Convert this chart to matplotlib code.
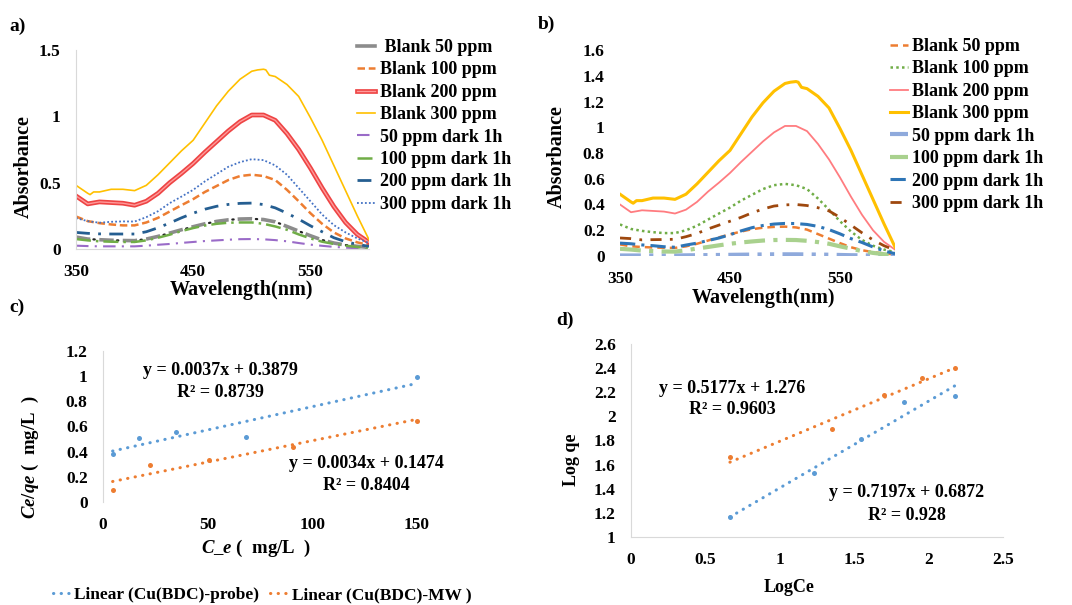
import matplotlib
matplotlib.use("Agg")
import matplotlib.pyplot as plt
import matplotlib.patheffects as pe
from matplotlib.ticker import FuncFormatter

plt.rcParams['font.family'] = ['Liberation Serif', 'DejaVu Serif']
plt.rcParams['font.weight'] = 'bold'
plt.rcParams['mathtext.fontset'] = 'custom'
plt.rcParams['mathtext.it'] = 'Liberation Serif:italic:bold'
plt.rcParams['mathtext.rm'] = 'Liberation Serif:bold'
plt.rcParams['mathtext.bf'] = 'Liberation Serif:bold'

# ---------------- data ----------------
wl = [350, 360, 370, 380, 390, 400, 410, 420, 430, 440, 450, 460, 470,
      480, 490, 500, 510, 520, 530, 540, 550, 560, 570, 580, 590, 600]
wl_300 = [350, 355, 360, 362, 365, 370, 380, 390, 400, 410, 420, 430, 440, 450,
          460, 470, 480, 490, 500, 505, 510, 512, 515, 520, 530, 540, 550,
          560, 570, 580, 590, 600]

blank_300 = [0.48, 0.45, 0.42, 0.41, 0.43, 0.43, 0.45, 0.45, 0.44, 0.48, 0.56,
             0.65, 0.74, 0.82, 0.95, 1.08, 1.19, 1.28, 1.34, 1.35, 1.355, 1.35,
             1.31, 1.30, 1.24, 1.15, 0.99, 0.82, 0.63, 0.44, 0.25, 0.07]
blank_200 = [0.40, 0.34, 0.355, 0.35, 0.345, 0.33, 0.36, 0.42, 0.50, 0.57, 0.645,
             0.73, 0.81, 0.89, 0.96, 1.01, 1.01, 0.97, 0.87, 0.75, 0.61, 0.46,
             0.32, 0.20, 0.11, 0.05]
blank_100 = [0.245, 0.21, 0.195, 0.185, 0.178, 0.178, 0.20, 0.235, 0.283, 0.33,
             0.376, 0.43, 0.475, 0.52, 0.55, 0.56, 0.55, 0.52, 0.446, 0.36, 0.27,
             0.19, 0.125, 0.08, 0.05, 0.03]
blank_50 = [0.09, 0.075, 0.07, 0.066, 0.064, 0.063, 0.075, 0.095, 0.12, 0.145,
            0.168, 0.19, 0.208, 0.22, 0.226, 0.228, 0.222, 0.205, 0.17, 0.135,
            0.10, 0.068, 0.045, 0.03, 0.02, 0.012]

# panel a dark series
a_dark_300 = [0.233, 0.21, 0.198, 0.205, 0.208, 0.207, 0.24, 0.285, 0.346, 0.395,
              0.446, 0.51, 0.565, 0.62, 0.655, 0.677, 0.67, 0.63, 0.56, 0.46,
              0.36, 0.26, 0.18, 0.125, 0.08, 0.045]
a_dark_200 = [0.125, 0.118, 0.114, 0.113, 0.113, 0.113, 0.13, 0.16, 0.196, 0.235,
              0.27, 0.30, 0.322, 0.336, 0.344, 0.346, 0.335, 0.31, 0.27, 0.225,
              0.175, 0.13, 0.085, 0.055, 0.035, 0.02]
a_dark_100 = [0.075, 0.065, 0.058, 0.055, 0.053, 0.053, 0.065, 0.085, 0.108, 0.135,
              0.158, 0.177, 0.19, 0.198, 0.20, 0.20, 0.19, 0.17, 0.145, 0.11,
              0.08, 0.055, 0.038, 0.025, 0.015, 0.008]
a_dark_50 = [0.025, 0.022, 0.02, 0.02, 0.02, 0.02, 0.025, 0.032, 0.038, 0.046,
             0.053, 0.06, 0.065, 0.07, 0.074, 0.075, 0.073, 0.067, 0.058, 0.045,
             0.033, 0.024, 0.016, 0.01, 0.006, 0.003]

# panel b dark series
b_dark_300 = [0.14, 0.135, 0.125, 0.127, 0.128, 0.13, 0.15, 0.175, 0.21, 0.24,
              0.27, 0.30, 0.335, 0.365, 0.388, 0.397, 0.40, 0.392, 0.375, 0.35,
              0.30, 0.24, 0.18, 0.125, 0.08, 0.045]
b_dark_200 = [0.10, 0.095, 0.086, 0.08, 0.072, 0.068, 0.085, 0.10, 0.12, 0.14,
              0.165, 0.195, 0.22, 0.237, 0.248, 0.253, 0.252, 0.245, 0.23, 0.205,
              0.172, 0.135, 0.105, 0.07, 0.04, 0.018]
b_dark_100 = [0.056, 0.05, 0.042, 0.038, 0.035, 0.034, 0.045, 0.058, 0.07, 0.083,
              0.095, 0.105, 0.113, 0.12, 0.124, 0.125, 0.124, 0.118, 0.108, 0.095,
              0.075, 0.057, 0.038, 0.024, 0.014, 0.007]
b_dark_50 = [0.004, 0.004, 0.004, 0.004, 0.004, 0.004, 0.005, 0.006, 0.007, 0.008,
             0.009, 0.01, 0.011, 0.012, 0.013, 0.013, 0.013, 0.012, 0.011, 0.01,
             0.008, 0.006, 0.005, 0.004, 0.003, 0.002]

labels_ab = ['Blank 50 ppm', 'Blank 100 ppm', 'Blank 200 ppm', 'Blank 300 ppm',
             '50 ppm dark 1h', '100 ppm dark 1h', '200 ppm dark 1h', '300 ppm dark 1h']

# panel c (Langmuir)
c_probe_x = [4.6, 17, 35, 68.5, 150]
c_probe_y = [0.38, 0.507, 0.554, 0.52, 0.995]
c_mw_x = [4.6, 22.6, 50.5, 90.6, 150]
c_mw_y = [0.098, 0.296, 0.335, 0.44, 0.647]
c_fit_probe = (0.0037, 0.3879)
c_fit_mw = (0.0034, 0.1474)
c_eq_probe = ['y = 0.0037x + 0.3879', 'R² = 0.8739']
c_eq_mw = ['y = 0.0034x + 0.1474', 'R² = 0.8404']

# panel d (Freundlich)
d_probe_x = [0.665, 1.23, 1.544, 1.835, 2.176]
d_probe_y = [1.167, 1.53, 1.81, 2.12, 2.17]
d_mw_x = [0.665, 1.354, 1.703, 1.957, 2.176]
d_mw_y = [1.66, 1.894, 2.178, 2.32, 2.40]
d_fit_probe = (0.7197, 0.6872)
d_fit_mw = (0.5177, 1.276)
d_eq_probe = ['y = 0.7197x + 0.6872', 'R² = 0.928']
d_eq_mw = ['y = 0.5177x + 1.276', 'R² = 0.9603']

legend_c = ['Linear (Cu(BDC)-probe)', 'Linear (Cu(BDC)-MW )']

# ---------------- figure ----------------
W, H = 1072, 605
fig = plt.figure(figsize=(W / 100, H / 100), dpi=100)


def ax_at(l, t, r, b):
    return fig.add_axes([l / W, 1 - b / H, (r - l) / W, (b - t) / H])


GRAY = '#D9D9D9'
TICK_FS = 12.5
fmt = FuncFormatter(lambda v, p: f'{v:g}')


def style(ax, left=True, bottom=True):
    for s in ['top', 'right']:
        ax.spines[s].set_visible(False)
    ax.spines['left'].set_visible(left)
    ax.spines['bottom'].set_visible(bottom)
    ax.spines['left'].set_color(GRAY)
    ax.spines['bottom'].set_color(GRAY)
    ax.tick_params(length=0, labelsize=TICK_FS, pad=11)
    ax.xaxis.set_major_formatter(fmt)
    ax.yaxis.set_major_formatter(fmt)
    for lab in ax.get_xticklabels() + ax.get_yticklabels():
        lab.set_fontweight('bold')
    ax.patch.set_alpha(0)


# ---- panel a ----
axa = ax_at(76, 50, 369, 249)
a_styles = [
    dict(color='#8C8C8C', lw=2.6, ls=(0, (4, 2.5))),
    dict(color='#ED7D31', lw=1.8, ls=(0, (3, 1.5))),
    dict(color='#FF9A9A', lw=1.0, ls='-',
         path_effects=[pe.Stroke(linewidth=3.4, foreground='#EE4444'), pe.Normal()]),
    dict(color='#FFC000', lw=1.2, ls='-'),
    dict(color='#9A6BC8', lw=1.5, ls=(0, (6, 3, 1, 3))),
    dict(color='#70AD47', lw=1.8, ls=(0, (6, 2, 1, 2))),
    dict(color='#255E91', lw=2.0, ls=(0, (5, 3, 1, 3))),
    dict(color='#4472C4', lw=1.3, ls=(0, (1, 1.2))),
]
a_data = [(wl, blank_50), (wl, blank_100), (wl, blank_200), (wl_300, blank_300),
          (wl, a_dark_50), (wl, a_dark_100), (wl, a_dark_200), (wl, a_dark_300)]
ha = []
for i, ((x, y), st, lab) in enumerate(zip(a_data, a_styles, labels_ab)):
    h, = axa.plot(x, y, label=lab, **st)
    if i == 0:
        # black dots in the gaps of the gray dashes
        axa.plot(x, y, color='#222222', lw=1.6, ls=(2.67, (0.6, 10.0)),
                 dash_capstyle='round')
        h, = axa.plot([], [], color='#8C8C8C', lw=2.6, ls='-')
    ha.append(h)
axa.set_xlim(350, 600)
axa.set_ylim(0, 1.5)
axa.set_xticks([350, 450, 550])
axa.set_yticks([0, 0.5, 1, 1.5])
style(axa, left=True, bottom=True)

fig.legend(ha, [' ' + labels_ab[0]] + labels_ab[1:], loc='upper left',
           bbox_to_anchor=(357 / W, 1 - 39 / H), frameon=False,
           prop=dict(size=13, weight='bold'), handlelength=1.0,
           handletextpad=0.25, labelspacing=0.3, borderpad=0,
           borderaxespad=0)

fig.text(24 / W, 1 - 167 / H, 'Absorbance', rotation=90, ha='center',
         va='center', fontsize=14.5, fontweight='bold')
fig.text(241 / W, 1 - 290 / H, 'Wavelength(nm)', ha='center', va='center',
         fontsize=14.5, fontweight='bold')
fig.text(18 / W, 1 - 26 / H, 'a)', ha='center', va='center', fontsize=14,
         fontweight='bold')

# ---- panel b ----
axb = ax_at(620, 50, 895, 256)
b_styles = [
    dict(color='#ED7D31', lw=1.8, ls=(0, (3, 2))),
    dict(color='#70AD47', lw=1.8, ls=(0, (1, 1.3))),
    dict(color='#FF7C80', lw=1.3, ls='-'),
    dict(color='#FFC000', lw=2.2, ls='-'),
    dict(color='#8FAADC', lw=3.0, ls=(0, (5, 2, 1, 2, 1, 2))),
    dict(color='#A9D18E', lw=3.0, ls=(0, (5, 2, 1, 2))),
    dict(color='#2E75B6', lw=2.2, ls=(0, (5, 2, 1, 2))),
    dict(color='#9E480E', lw=2.0, ls=(0, (4, 3, 1, 3))),
]
b_data = [(wl, blank_50), (wl, blank_100), (wl, blank_200), (wl_300, blank_300),
          (wl, b_dark_50), (wl, b_dark_100), (wl, b_dark_200), (wl, b_dark_300)]
hb = []
for (x, y), st, lab in zip(b_data, b_styles, labels_ab):
    h, = axb.plot(x, y, label=lab, **st)
    hb.append(h)
axb.set_xlim(350, 600)
axb.set_ylim(0, 1.6)
axb.set_xticks([350, 450, 550])
axb.set_yticks([0, 0.2, 0.4, 0.6, 0.8, 1, 1.2, 1.4, 1.6])
style(axb, left=False, bottom=False)

fig.legend(hb, labels_ab, loc='upper left', bbox_to_anchor=(890 / W, 1 - 38 / H),
           frameon=False, prop=dict(size=13, weight='bold'), handlelength=1.0,
           handletextpad=0.2, labelspacing=0.3, borderpad=0, borderaxespad=0)

fig.text(557 / W, 1 - 157 / H, 'Absorbance', rotation=90, ha='center',
         va='center', fontsize=14.5, fontweight='bold')
fig.text(763 / W, 1 - 298 / H, 'Wavelength(nm)', ha='center', va='center',
         fontsize=14.5, fontweight='bold')
fig.text(546 / W, 1 - 24 / H, 'b)', ha='center', va='center', fontsize=14,
         fontweight='bold')

# ---- panel c ----
BLUE = '#5B9BD5'
ORANGE = '#ED7D31'
dots = (0, (0.1, 2.4))
TLW = 2.2
MS = 3.6
axc = ax_at(103, 351, 438, 502)
axc.plot(c_probe_x, c_probe_y, 'o', color=BLUE, ms=MS, mew=0)
axc.plot(c_mw_x, c_mw_y, 'o', color=ORANGE, ms=MS, mew=0)
xs = [min(c_probe_x), max(c_probe_x)]
lc1, = axc.plot(xs, [c_fit_probe[0] * v + c_fit_probe[1] for v in xs], color=BLUE,
                lw=TLW, ls=dots, dash_capstyle='round')
xs = [min(c_mw_x), max(c_mw_x)]
lc2, = axc.plot(xs, [c_fit_mw[0] * v + c_fit_mw[1] for v in xs], color=ORANGE,
                lw=TLW, ls=dots, dash_capstyle='round')
axc.set_xlim(0, 160)
axc.set_ylim(0, 1.2)
axc.set_xticks([0, 50, 100, 150])
axc.set_yticks([0, 0.2, 0.4, 0.6, 0.8, 1, 1.2])
style(axc, left=True, bottom=False)
axc.text(55.9, 1.049, c_eq_probe[0], ha='center', va='center', fontsize=13,
         fontweight='bold')
axc.text(55.9, 0.874, c_eq_probe[1], ha='center', va='center', fontsize=13,
         fontweight='bold')
axc.text(126, 0.302, c_eq_mw[0], ha='center', va='center', fontsize=13,
         fontweight='bold')
axc.text(126, 0.135, c_eq_mw[1], ha='center', va='center', fontsize=13,
         fontweight='bold')

fig.text(30 / W, 1 - 457 / H, r'$\mathit{Ce/qe}$' + ' (  mg/L  )', rotation=90,
         ha='center', va='center', fontsize=13.5, fontweight='bold')
fig.text(256 / W, 1 - 548 / H, r'$\mathit{C\_e}$' + ' (  mg/L  )', ha='center',
         va='center', fontsize=13.5, fontweight='bold')
fig.text(17 / W, 1 - 307 / H, 'c)', ha='center', va='center', fontsize=14,
         fontweight='bold')

fig.legend([lc1, lc2], legend_c, loc='center', ncol=2,
           bbox_to_anchor=(262 / W, 1 - 595 / H), frameon=False,
           prop=dict(size=12.5, weight='bold'), handlelength=1.1,
           handletextpad=0.15, columnspacing=0.6, borderpad=0)

# ---- panel d ----
axd = ax_at(631, 344, 1003, 537)
axd.plot(d_probe_x, d_probe_y, 'o', color=BLUE, ms=MS, mew=0)
axd.plot(d_mw_x, d_mw_y, 'o', color=ORANGE, ms=MS, mew=0)
xs = [min(d_probe_x), max(d_probe_x)]
axd.plot(xs, [d_fit_probe[0] * v + d_fit_probe[1] for v in xs], color=BLUE,
         lw=TLW, ls=dots, dash_capstyle='round')
xs = [min(d_mw_x), max(d_mw_x)]
axd.plot(xs, [d_fit_mw[0] * v + d_fit_mw[1] for v in xs], color=ORANGE,
         lw=TLW, ls=dots, dash_capstyle='round')
axd.set_xlim(0, 2.5)
axd.set_ylim(1, 2.6)
axd.set_xticks([0, 0.5, 1, 1.5, 2, 2.5])
axd.set_yticks([1, 1.2, 1.4, 1.6, 1.8, 2, 2.2, 2.4, 2.6])
style(axd, left=True, bottom=True)
axd.text(0.679, 2.235, d_eq_mw[0], ha='center', va='center', fontsize=13,
         fontweight='bold')
axd.text(0.679, 2.053, d_eq_mw[1], ha='center', va='center', fontsize=13,
         fontweight='bold')
axd.text(1.855, 1.365, d_eq_probe[0], ha='center', va='center', fontsize=13,
         fontweight='bold')
axd.text(1.855, 1.182, d_eq_probe[1], ha='center', va='center', fontsize=13,
         fontweight='bold')

fig.text(572 / W, 1 - 460 / H, 'Log qe', rotation=90, ha='center', va='center',
         fontsize=13, fontweight='bold')
fig.text(789 / W, 1 - 587 / H, 'LogCe', ha='center', va='center', fontsize=13,
         fontweight='bold')
fig.text(565 / W, 1 - 320 / H, 'd)', ha='center', va='center', fontsize=14,
         fontweight='bold')

fig.savefig('out.png', dpi=100)
